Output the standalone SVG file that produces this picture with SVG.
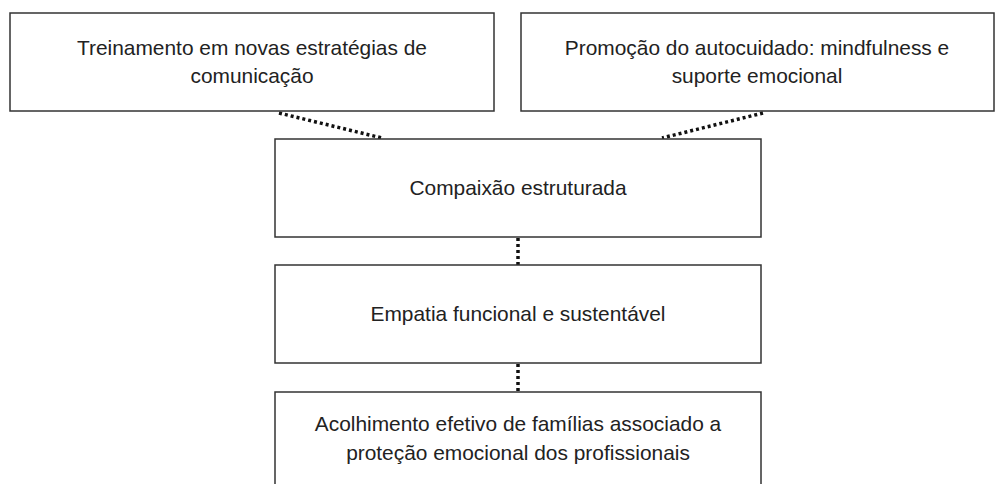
<svg xmlns="http://www.w3.org/2000/svg" width="995" height="484" viewBox="0 0 995 484">
<style>
.box{fill:#fff;stroke:#333;stroke-width:1.5}
.t{font-family:"Liberation Sans",Arial,sans-serif;font-size:20.9px;fill:#222;text-anchor:middle;dominant-baseline:central}
.c{stroke:#111;stroke-width:3.5;stroke-dasharray:3 3;fill:none}
</style>
<rect width="995" height="484" fill="#fff"/>
<g id="connectors">
<line class="c" x1="279" y1="113" x2="382" y2="138"/>
<line class="c" x1="763" y1="113" x2="662" y2="138"/>
<line class="c" x1="518" y1="238" x2="518" y2="265"/>
<line class="c" x1="518" y1="364" x2="518" y2="392"/>
</g>
<g id="n1"><rect class="box" x="10" y="13" width="484" height="98"/>
<text class="t" x="252" y="47">Treinamento em novas estratégias de</text>
<text class="t" x="252" y="75">comunicação</text></g>
<g id="n2"><rect class="box" x="521" y="13" width="473" height="98"/>
<text class="t" x="757" y="47">Promoção do autocuidado: mindfulness e</text>
<text class="t" x="757" y="75">suporte emocional</text></g>
<g id="n3"><rect class="box" x="275" y="139" width="486" height="98"/>
<text class="t" x="518" y="187">Compaixão estruturada</text></g>
<g id="n4"><rect class="box" x="275" y="265" width="486" height="98"/>
<text class="t" x="518" y="313">Empatia funcional e sustentável</text></g>
<g id="n5"><rect class="box" x="275" y="392" width="486" height="98"/>
<text class="t" x="518" y="423">Acolhimento efetivo de famílias associado a</text>
<text class="t" x="518" y="452">proteção emocional dos profissionais</text></g>
</svg>
